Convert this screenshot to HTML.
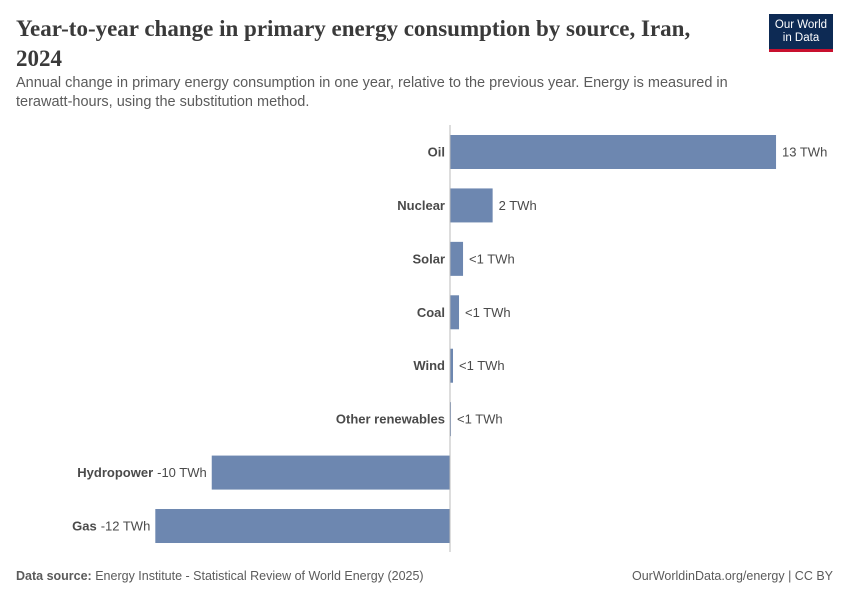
<!DOCTYPE html>
<html><head><meta charset="utf-8"><style>
body{margin:0;background:#fff;width:850px;height:600px;overflow:hidden;font-family:"Liberation Sans",sans-serif;position:relative}
.title{position:absolute;left:16px;top:14px;width:720px;font-family:"Liberation Serif",serif;font-size:23px;line-height:30px;color:#3a3a3a;font-weight:bold}
.sub{position:absolute;left:16px;top:74px;width:740px;font-size:14.5px;line-height:19px;color:#5b5b5b}
.logo{position:absolute;left:769px;top:14px;width:64px;height:38px;background:#0d2a54;border-bottom:3px solid #c8102e;color:#fff;font-size:11.5px;line-height:13px;text-align:center;padding-top:5px;box-sizing:border-box}
.foot{position:absolute;top:569px;font-size:12.5px;color:#5b5b5b}
</style></head><body>
<div class="title">Year-to-year change in primary energy consumption by source, Iran, 2024</div>
<div class="sub">Annual change in primary energy consumption in one year, relative to the previous year. Energy is measured in terawatt-hours, using the substitution method.</div>
<div class="logo">Our World<br>in Data</div>
<svg id="chart" width="850" height="600" style="position:absolute;left:0;top:0"></svg>
<div class="foot" style="left:16px"><b>Data source:</b> Energy Institute - Statistical Review of World Energy (2025)</div>
<div class="foot" style="right:17px">OurWorldinData.org/energy | CC BY</div>
<script>
const categories=["Oil","Nuclear","Solar","Coal","Wind","Other renewables","Hydropower","Gas"];
const values=[13.0,1.7,0.52,0.36,0.12,0.04,-9.5,-11.75];
const valueLabels=["13 TWh","2 TWh","<1 TWh","<1 TWh","<1 TWh","<1 TWh","-10 TWh","-12 TWh"];
const svg=document.getElementById('chart');
const NS='http://www.w3.org/2000/svg';
const x0=450,scale=25.08,top0=135,step=53.43,bh=34;
const xs=v=>x0+v*scale;
function el(t,a){const e=document.createElementNS(NS,t);for(const k in a)e.setAttribute(k,a[k]);svg.appendChild(e);return e;}
categories.forEach((c,i)=>{
  const v=values[i],y=top0+i*step,xe=xs(v);
  const r=el('rect',{x:Math.min(x0,xe),y:y,width:Math.max(Math.abs(xe-x0),0.8),height:bh,fill:'#6d87b0'});
  
  
  const cy=y+bh/2+4.5;
  if(v>=0){
    const l=el('text',{x:445,y:cy,'text-anchor':'end','font-size':13,'font-weight':'bold',fill:'#4a4a4a'});l.textContent=c;
    
    
    const t=el('text',{x:xe+6,y:cy,'font-size':13,fill:'#4a4a4a'});t.textContent=valueLabels[i];
    
    
  }else{
    const t=el('text',{x:xe-5,y:cy,'text-anchor':'end','font-size':13,fill:'#4a4a4a'});t.textContent=valueLabels[i];
    
    
    const w=t.getComputedTextLength();
    const l=el('text',{x:xe-9-w,y:cy,'text-anchor':'end','font-size':13,'font-weight':'bold',fill:'#4a4a4a'});l.textContent=c;
    
    
  }
});
const ax=el('line',{x1:x0,x2:x0,y1:125,y2:552,stroke:'#bbb','stroke-width':1});


</script>
</body></html>
